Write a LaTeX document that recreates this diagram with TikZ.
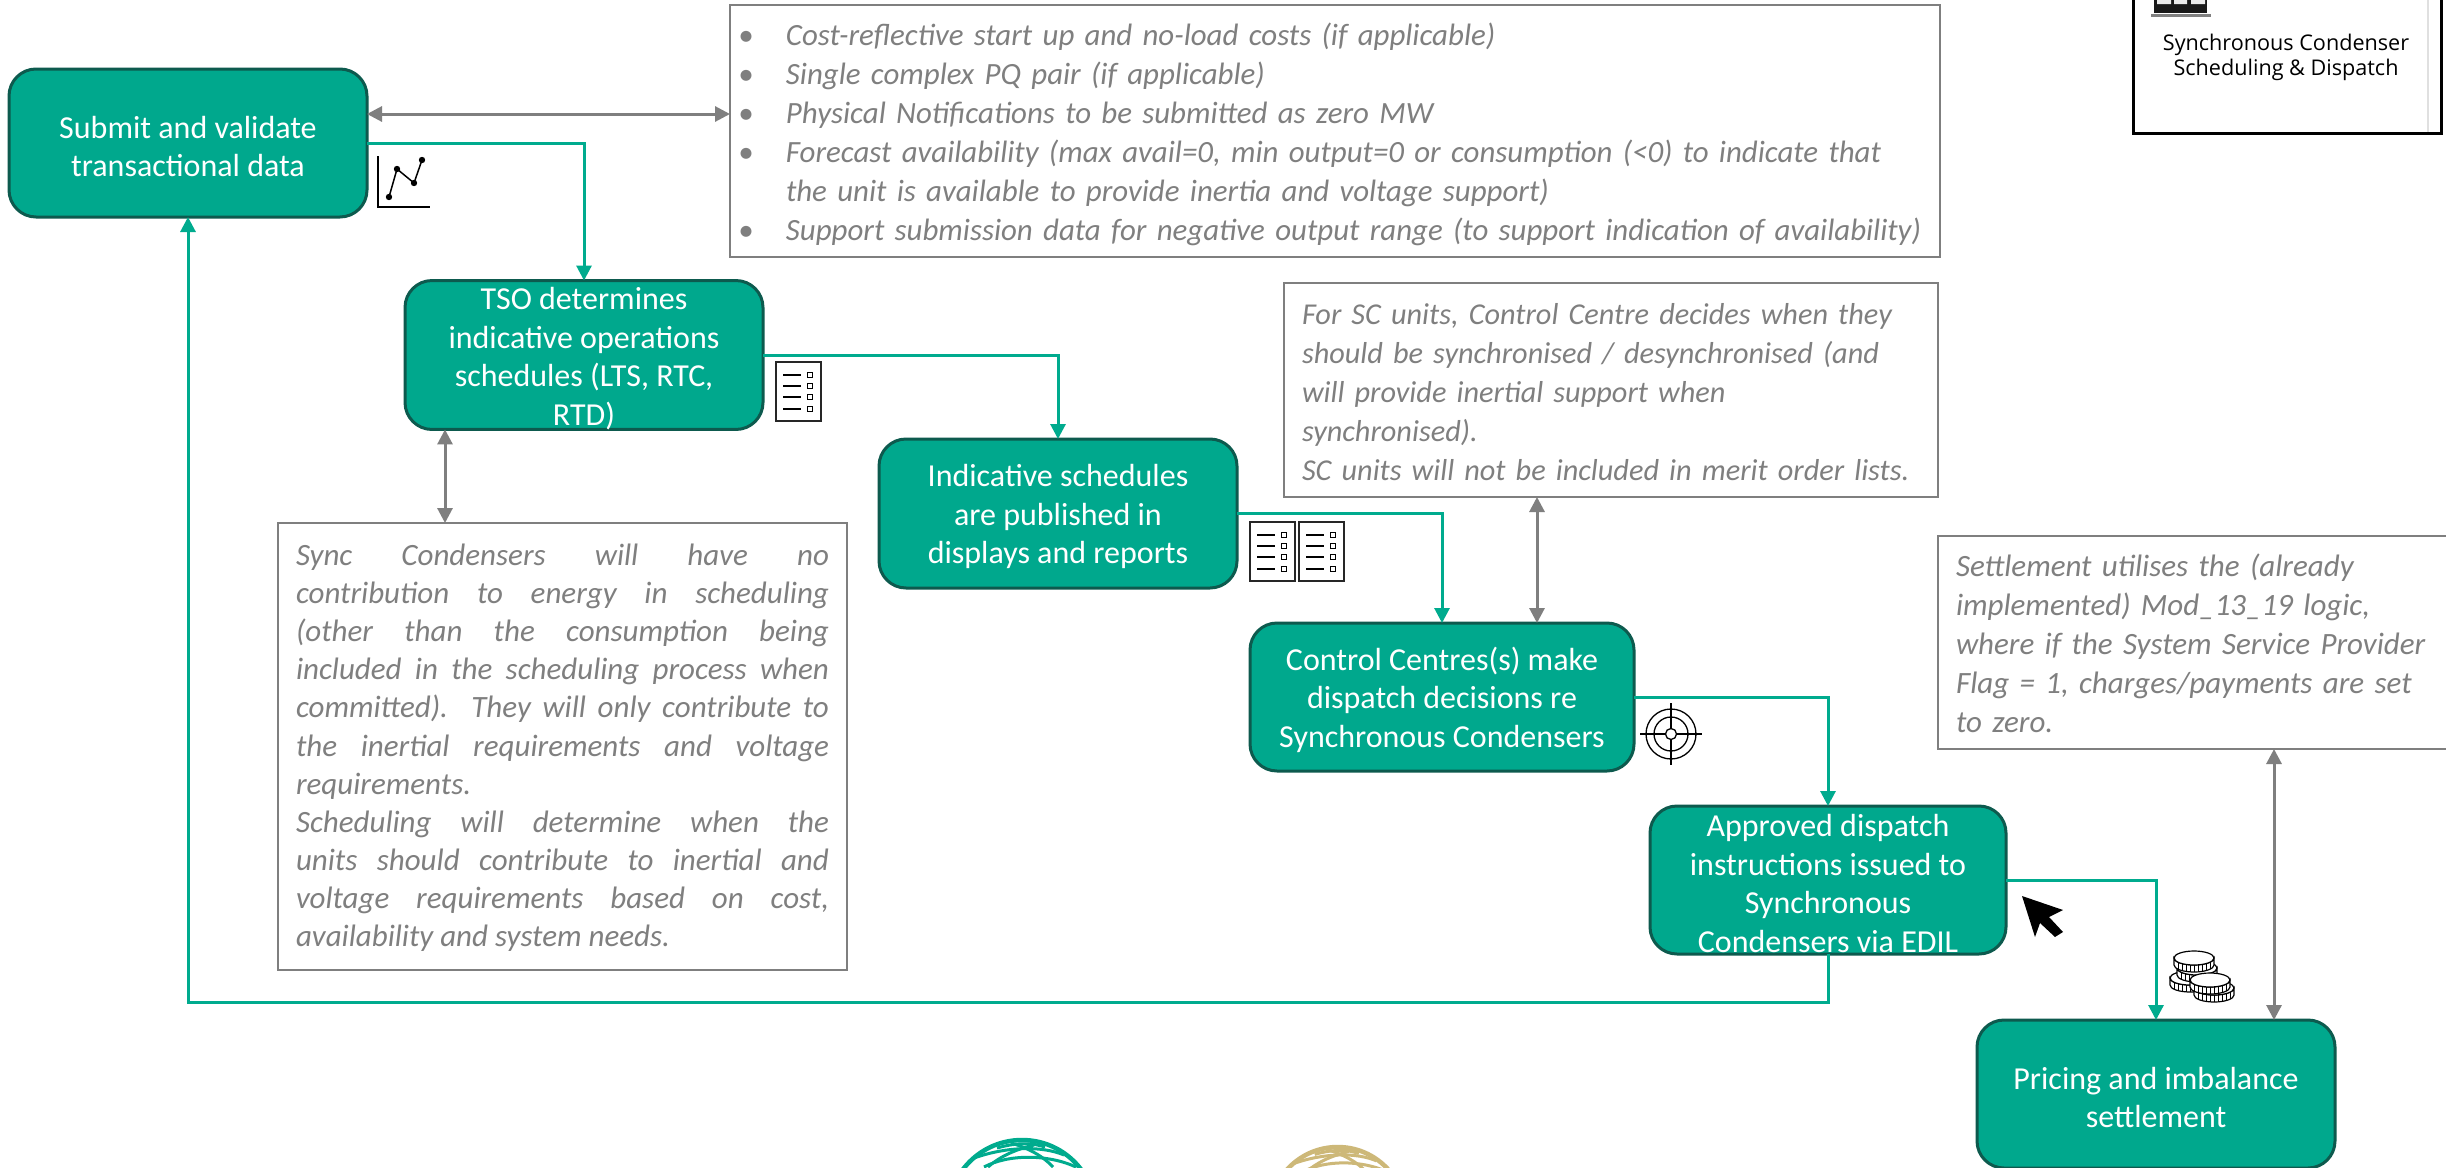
\documentclass[tikz,border=0pt]{standalone}
\usepackage{fontspec}
\setmainfont{Carlito}
\newfontfamily\legendfont{Open Sans}
\usetikzlibrary{arrows.meta}
\definecolor{procfill}{HTML}{00A88D}
\definecolor{procedge}{HTML}{0D5A4E}
\definecolor{flow}{HTML}{00AB8E}
\definecolor{linkgrey}{HTML}{7F7F7F}
\definecolor{goldglobe}{HTML}{CDB878}
\tikzset{
  procbox/.style={draw=procedge,fill=procfill,line width=3pt,rounded corners=27pt,text=white,align=center,inner sep=0pt,outer sep=0pt,font=\fontsize{32}{38.5}\selectfont},
  notebox/.style={draw=linkgrey,line width=2.5pt,fill=white,text=linkgrey,inner ysep=0pt,inner xsep=18pt,outer sep=0pt,font=\fontsize{31}{39}\selectfont\itshape},
  flowline/.style={draw=flow,line width=3pt,-{Triangle[length=15pt,width=15pt]}},
  linkline/.style={draw=linkgrey,line width=3pt,{Triangle[length=15pt,width=15pt]}-{Triangle[length=15pt,width=15pt]}},
  listicon/.pic={
    \draw[line width=1.5pt,fill=white,draw=black!85] (0,0) rectangle (45,59);
    \foreach \yy in {13,24,35,47}{
      \draw[line width=1.5pt] (7,\yy) -- (25,\yy);
      \draw[line width=1.2pt] (31.5,\yy-2.5) rectangle (36.5,\yy+2.5);
    }
  },
  coin/.pic={
    \path[fill=white,draw=black,line width=1.2pt] (-20,0) -- (-20,7) arc[start angle=180,end angle=360,x radius=20pt,y radius=7pt] -- (20,0) arc[start angle=0,end angle=-180,x radius=20pt,y radius=7pt] -- cycle;
    \foreach \cx in {-16,-12,-8,-4,0,4,8,12,16}{
      \draw[line width=1pt] ({\cx},{7*sqrt(1-\cx*\cx/400)}) -- ++(0,7);
    }
    \draw[fill=white,line width=1.2pt] (0,0) ellipse[x radius=20pt,y radius=7pt];
  },
}
\newcommand{\bul}{\makebox[46pt][l]{\hspace*{-2pt}•}}
\newcommand{\hng}{\hspace*{46pt}}
\newcommand{\lowr}{\rule{0pt}{29pt}}
\newcommand{\globeshape}{%
  \draw[line width=4.5pt] (4,74) circle[radius=74pt];
  \draw[line width=3pt] (-21,8) .. controls (0,2) and (15,3) .. (27,7);
  \draw[line width=3pt] (-44,18) .. controls (-10,6) and (25,6) .. (46,15);
  \draw[line width=3pt] (-34,27) .. controls (-10,14) and (30,14) .. (58,27);
  \draw[line width=3pt] (16,5) .. controls (-5,10) and (-20,18) .. (-30,27);
  \draw[line width=3pt] (-7,3) .. controls (10,8) and (25,16) .. (35,27);
}
\begin{document}
\begin{tikzpicture}[x=1pt,y=-1pt]
\useasboundingbox (0,0) rectangle (2446,1167);
\clip (0,0) rectangle (2446,1167);
\fill[white] (0,0) rectangle (2446,1167);

% logos cut by the lower edge
\begin{scope}[shift={(1018,1140)},draw=flow]\globeshape\end{scope}
\begin{scope}[shift={(1334,1147)},scale=0.92,draw=goldglobe]\globeshape\end{scope}

% note boxes
\node[notebox,minimum width=1210pt,minimum height=252pt,inner xsep=10pt,text width=1190pt,align=left,font=\fontsize{30.9}{39}\selectfont\itshape] (n1) at (1335,131) {%
\rule{0pt}{30pt}\bul Cost-reflective start up and no-load costs (if applicable)\\
\bul Single complex PQ pair (if applicable)\\
\bul Physical Notifications to be submitted as zero MW\\
\bul Forecast availability (max avail=0, min output=0 or consumption (<0) to indicate that\\
\hng the unit is available to provide inertia and voltage support)\\
\bul Support submission data for negative output range (to support indication of availability)};

\node[notebox,minimum width=654pt,minimum height=214pt,text width=618pt,align=left,font=\fontsize{30.3}{39}\selectfont\itshape] (n2) at (1611,390) {%
\rule{0pt}{26pt}For SC units, Control Centre decides when they\\
should be synchronised / desynchronised (and\\
will provide inertial support when\\
synchronised).\\
SC units will not be included in merit order lists.};

\node[notebox,minimum width=569pt,minimum height=447pt,text width=533pt,align=justify,font=\fontsize{31}{38.1}\selectfont\itshape] (n4) at (562.5,746.5) {%
\rule{0pt}{24pt}Sync Condensers will have no\linebreak
contribution to energy in scheduling\linebreak
(other than the consumption being\linebreak
included in the scheduling process when\linebreak
committed).\ \ They will only contribute to\linebreak
the inertial requirements and voltage\linebreak
requirements.\\
Scheduling will determine when the\linebreak
units should contribute to inertial and\linebreak
voltage requirements based on cost,\linebreak
availability and system needs.};

\node[notebox,minimum width=522pt,minimum height=213pt,text width=486pt,align=left] (n3) at (2199,642.5) {%
\rule{0pt}{24pt}Settlement utilises the (already\\
implemented) Mod\_13\_19 logic,\\
where if the System Service Provider\\
Flag = 1, charges/payments are set\\
to zero.};

% process boxes
\node[procbox,minimum width=358pt,minimum height=148pt] (b1) at (188,143) {\lowr Submit and validate\\transactional data};
\node[procbox,minimum width=358pt,minimum height=148pt] (b2) at (584,355) {\lowr TSO determines\\indicative operations\\schedules (LTS, RTC,\\RTD)};
\node[procbox,minimum width=358pt,minimum height=149pt] (b3) at (1058,513.5) {\lowr Indicative schedules\\are published in\\displays and reports};
\node[procbox,minimum width=384pt,minimum height=148pt] (b4) at (1442,697) {\lowr Control Centres(s) make\\dispatch decisions re\\Synchronous Condensers};
\node[procbox,minimum width=356pt,minimum height=148pt] (b5) at (1828,880) {\lowr Approved dispatch\\instructions issued to\\Synchronous\\Condensers via EDIL};
\node[procbox,minimum width=358pt,minimum height=148pt] (b6) at (2156,1094) {\lowr Pricing and imbalance\\settlement};

% flow connectors
\draw[flowline] (b1.east) -| (b2.north);
\draw[flowline] (b2.east) -| (b3.north);
\draw[flowline] (b3.east) -| (b4.north);
\draw[flowline] (b4.east) -| (b5.north);
\draw[flowline] (b5.east) -| (b6.north);
\draw[flowline] (b5.south) |- (188,1002) -- (b1.south);

% grey links
\draw[linkline] ([yshift=29pt]b1.east) -- ([yshift=29pt]b1.east -| n1.west);
\draw[linkline] ([xshift=-139pt]b2.south) -- ([xshift=-139pt]b2.south |- n4.north);
\draw[linkline] ([xshift=95pt]b4.north) -- ([xshift=95pt]b4.north |- n2.south);
\draw[linkline] ([xshift=118pt]b6.north) -- ([xshift=118pt]b6.north |- n3.south);

% chart icon
\draw[line width=1.3pt] (378,156) -- (378,207) -- (430,207);
\draw[line width=1.5pt] (389,197) -- (397,169) -- (414,183) -- (422,160);
\foreach \px/\py in {389/197,397/169,414/183,422/160}{\fill (\px,\py) circle[radius=3.2pt];}

% list icons
\pic at (776,362) {listicon};
\pic at (1250,522) {listicon};
\pic at (1299,522) {listicon};

% target icon
\begin{scope}[shift={(1671,734)},line width=1.3pt]
  \draw (0,0) circle[radius=25pt];
  \draw (0,0) circle[radius=17pt];
  \draw (0,0) circle[radius=5.5pt];
  \draw (-31,0) -- (-6,0) (6,0) -- (31,0) (0,-31) -- (0,-6) (0,6) -- (0,31);
\end{scope}

% cursor
\fill (2022,896) -- (2063,910) -- (2049,917) -- (2063,932) -- (2055,937) -- (2040,923) -- (2035,937) -- cycle;

% coins
\pic at (2190,978) {coin};
\pic at (2197,968) {coin};
\pic at (2194,958) {coin};
\pic at (2214,988) {coin};
\pic at (2210,980) {coin};

% legend box, top right
\draw[draw=black!12,line width=2pt] (2428,-5) -- (2428,133);
\node[draw=black,line width=3pt,minimum width=308pt,minimum height=148pt,inner sep=0pt,outer sep=0pt] (legend) at (2287,59) {};
\fill[black!90] (2154,-5) rectangle (2207,13);
\fill[black!8] (2157,-5) rectangle (2171,4) (2174,-5) rectangle (2187,4) (2191,-5) rectangle (2205,4);
\fill[black!50] (2151,14) rectangle (2211,17);
\node[align=center,inner sep=0pt,font=\legendfont\fontsize{21.6}{25}\selectfont] (legendtext) at (2286,57) {Synchronous Condenser\\Scheduling \& Dispatch};
\end{tikzpicture}
\end{document}
